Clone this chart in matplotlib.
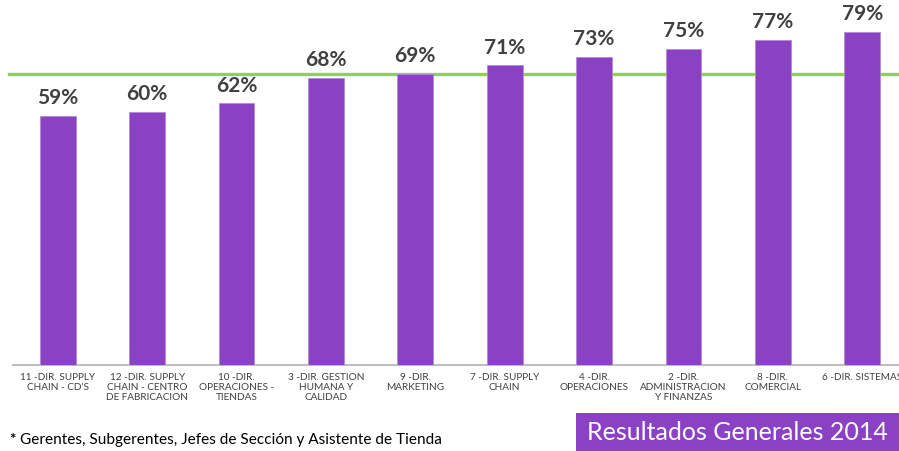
import matplotlib.pyplot as plt
from matplotlib.patches import Rectangle

plt.rcParams['font.family'] = ['Lato', 'DejaVu Sans']

areas = ["11 -DIR. SUPPLY\nCHAIN - CD'S",
         "12 -DIR. SUPPLY\nCHAIN - CENTRO\nDE FABRICACION",
         "10 -DIR.\nOPERACIONES -\nTIENDAS",
         "3 -DIR. GESTION\nHUMANA Y\nCALIDAD",
         "9 -DIR.\nMARKETING",
         "7 -DIR. SUPPLY\nCHAIN",
         "4 -DIR.\nOPERACIONES",
         "2 -DIR.\nADMINISTRACION\nY FINANZAS",
         "8 -DIR.\nCOMERCIAL",
         "6 -DIR. SISTEMAS"]
resultados = [59, 60, 62, 68, 69, 71, 73, 75, 77, 79]
promedio = 69

morado = '#8B41C4'
verde = '#92D050'
gris_texto = '#404040'

fig = plt.figure(figsize=(8.99, 4.51), dpi=100)
ax = fig.add_axes([13 / 899, 1 - 365 / 451, 894 / 899, 365 / 451])

x = range(len(areas))
ax.bar(x, resultados, width=0.4, color=morado, edgecolor='#B28AD8', linewidth=0.6, zorder=3)
for i, v in zip(x, resultados):
    ax.text(i, v + 1.8, f"{v}%", ha='center', va='bottom', fontsize=15,
            fontweight='bold', color=gris_texto)

# linea del promedio general
ax.axhline(promedio, xmin=-4 / 894, xmax=884 / 894, color=verde, linewidth=2.4,
           zorder=2, clip_on=False)

ax.set_xlim(-0.5, 9.5)
ax.set_ylim(0, 86.5)
ax.set_xticks(list(x))
ax.set_xticklabels(areas, fontsize=7.2, color=gris_texto, linespacing=1.15)
ax.tick_params(axis='x', length=0, pad=6)
ax.set_yticks([])
for s in ['top', 'left', 'right']:
    ax.spines[s].set_visible(False)
ax.spines['bottom'].set_color('#BFBFBF')
ax.spines['bottom'].set_linewidth(1.5)

fig.text(10 / 899, 1 - 440 / 451, "* ", fontsize=11, fontweight='bold',
         color='black', va='center')
fig.text(20 / 899, 1 - 440 / 451, "Gerentes, Subgerentes, Jefes de Sección y Asistente de Tienda",
         fontsize=11.1, color='black', va='center')

fig.patches.append(Rectangle((576 / 899, 0), 323 / 899, 38 / 451, transform=fig.transFigure,
                             facecolor=morado, edgecolor='none'))
fig.text(737 / 899, 1 - 432 / 451, "Resultados Generales 2014", fontsize=18,
         color='white', ha='center', va='center')

fig.savefig('out.png', dpi=100)
